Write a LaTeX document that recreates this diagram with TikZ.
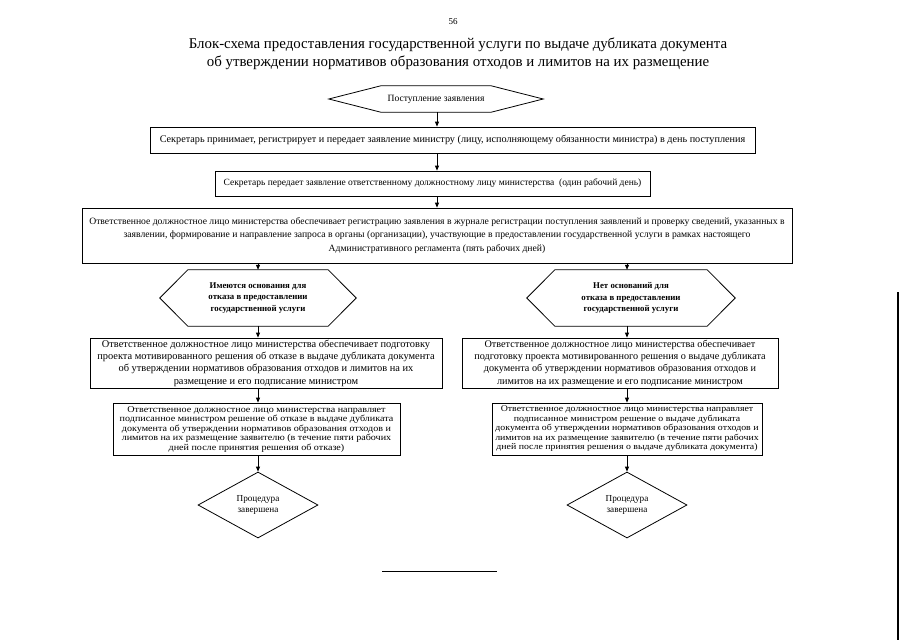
\documentclass[tikz,border=0pt]{standalone}
\usepackage{fontspec}
\setmainfont{Liberation Serif}
\newfontfamily\widefont[FakeStretch=1.12]{Liberation Serif}
\usetikzlibrary{shapes.geometric,arrows.meta}
\tikzset{
  boxnode/.style={draw, line width=0.8pt, rectangle, inner sep=0.5pt, align=center, font=\fontsize{10.2}{12}\selectfont},
  tightbox/.style={boxnode, font=\widefont\fontsize{9.0}{9.5}\selectfont},
  hexnode/.style={inner sep=0pt, align=center, font=\fontsize{9.6}{11}\selectfont},
  hexline/.style={line width=0.8pt},
  endnode/.style={draw, line width=0.8pt, diamond, inner sep=0pt, align=center, font=\fontsize{9.2}{11}\selectfont},
  arr/.style={line width=0.8pt, -{Triangle[length=5pt,width=4pt]}},
}
\begin{document}
\begin{tikzpicture}[x=1pt,y=-1pt]
\useasboundingbox (0,0) rectangle (905,640);
\fill[white] (0,0) rectangle (905,640);

% page number and title
\node[font=\fontsize{9}{10}\selectfont] (pg) at (453,22) {56};
\node[align=center, font=\fontsize{14.9}{18}\selectfont] (title) at (458,54)
  {Блок-схема предоставления государственной услуги по выдаче дубликата документа\\
   об утверждении нормативов образования отходов и лимитов на их размещение};

% column coordinates
\coordinate (c0) at (437,0);
\coordinate (c1) at (258,0);
\coordinate (c2) at (627,0);

% start hexagon
\node[hexnode, minimum width=214pt, minimum height=26pt] (h0) at (436,99) {Поступление заявления};
\draw[hexline] (h0.west) -- ([xshift=52pt]h0.north west) -- ([xshift=-52pt]h0.north east)
  -- (h0.east) -- ([xshift=-52pt]h0.south east) -- ([xshift=52pt]h0.south west) -- cycle;

% boxes
\node[boxnode, minimum width=605pt, minimum height=26pt] (b1) at (452.5,140)
  {Секретарь принимает, регистрирует и передает заявление министру (лицу, исполняющему обязанности министра) в день поступления};
\node[boxnode, minimum width=435pt, minimum height=25pt, font=\fontsize{9.5}{12}\selectfont] (b2) at (432.5,183.5)
  {Секретарь передает заявление ответственному должностному лицу министерства \ (один рабочий день)};
\node[boxnode, minimum width=710pt, minimum height=55pt, font=\fontsize{9.65}{13.5}\selectfont] (b3) at (437,235.5)
  {Ответственное должностное лицо министерства обеспечивает регистрацию заявления в журнале регистрации поступления заявлений и проверку сведений, указанных в\\
   заявлении, формирование и направление запроса в органы (организации), участвующие в предоставлении государственной услуги в рамках настоящего\\
   Административного регламента (пять рабочих дней)};

% decision hexagons
\node[hexnode, minimum width=196pt, minimum height=56pt, font=\bfseries\fontsize{8.8}{11.5}\selectfont] (lh) at (258,298)
  {Имеются основания для\\отказа в предоставлении\\государственной услуги};
\draw[hexline] (lh.west) -- ([xshift=28pt]lh.north west) -- ([xshift=-28pt]lh.north east)
  -- (lh.east) -- ([xshift=-28pt]lh.south east) -- ([xshift=28pt]lh.south west) -- cycle;
\node[hexnode, minimum width=208pt, minimum height=56pt, font=\bfseries\fontsize{8.8}{11.5}\selectfont] (rh) at (631,298)
  {Нет оснований для\\отказа в предоставлении\\государственной услуги};
\draw[hexline] (rh.west) -- ([xshift=28pt]rh.north west) -- ([xshift=-28pt]rh.north east)
  -- (rh.east) -- ([xshift=-28pt]rh.south east) -- ([xshift=28pt]rh.south west) -- cycle;

\node[boxnode, minimum width=352pt, minimum height=50pt, font=\fontsize{10.4}{12.3}\selectfont] (bA) at (266,363)
  {Ответственное должностное лицо министерства обеспечивает подготовку\\
   проекта мотивированного решения об отказе в выдаче дубликата документа\\
   об утверждении нормативов образования отходов и лимитов на их\\
   размещение и его подписание министром};
\node[boxnode, minimum width=316pt, minimum height=50pt, font=\fontsize{10.2}{12.3}\selectfont] (bB) at (620,363)
  {Ответственное должностное лицо министерства обеспечивает\\
   подготовку проекта мотивированного решения о выдаче дубликата\\
   документа об утверждении нормативов образования отходов и\\
   лимитов на их размещение и его подписание министром};

\node[tightbox, minimum width=287pt, minimum height=52pt] (bC) at (256.5,429)
  {Ответственное должностное лицо министерства направляет\\
   подписанное министром решение об отказе в выдаче дубликата\\
   документа об утверждении нормативов образования отходов и\\
   лимитов на их размещение заявителю (в течение пяти рабочих\\
   дней после принятия решения об отказе)};
\node[tightbox, minimum width=270pt, minimum height=52pt, font=\widefont\fontsize{8.8}{9.5}\selectfont] (bD) at (627,429)
  {Ответственное должностное лицо министерства направляет\\
   подписанное министром решение о выдаче дубликата\\
   документа об утверждении нормативов образования отходов и\\
   лимитов на их размещение заявителю (в течение пяти рабочих\\
   дней после принятия решения о выдаче дубликата документа)};

% end diamonds
\node[endnode, minimum width=120pt, minimum height=66pt] (dL) at (258,505) {Процедура\\завершена};
\node[endnode, minimum width=120pt, minimum height=66pt] (dR) at (627,505) {Процедура\\завершена};

% connectors
\draw[arr] (c0 |- h0.south) -- (c0 |- b1.north);
\draw[arr] (c0 |- b1.south) -- (c0 |- b2.north);
\draw[arr] (c0 |- b2.south) -- (c0 |- b3.north);
\draw[arr] (c1 |- b3.south) -- (c1 |- lh.north);
\draw[arr] (c2 |- b3.south) -- (c2 |- rh.north);
\draw[arr] (c1 |- lh.south) -- (c1 |- bA.north);
\draw[arr] (c2 |- rh.south) -- (c2 |- bB.north);
\draw[arr] (c1 |- bA.south) -- (c1 |- bC.north);
\draw[arr] (c2 |- bB.south) -- (c2 |- bD.north);
\draw[arr] (c1 |- bC.south) -- (dL.north);
\draw[arr] (c2 |- bD.south) -- (dR.north);

% footnote rule and scan edge
\coordinate (r1) at (382,571);
\coordinate (r2) at (497,571);
\draw[line width=0.8pt] (r1) -- (r2);
\coordinate (e1) at (898,292);
\coordinate (e2) at (898,640);
\draw[line width=2pt] (e1) -- (e2);
\end{tikzpicture}
\end{document}
